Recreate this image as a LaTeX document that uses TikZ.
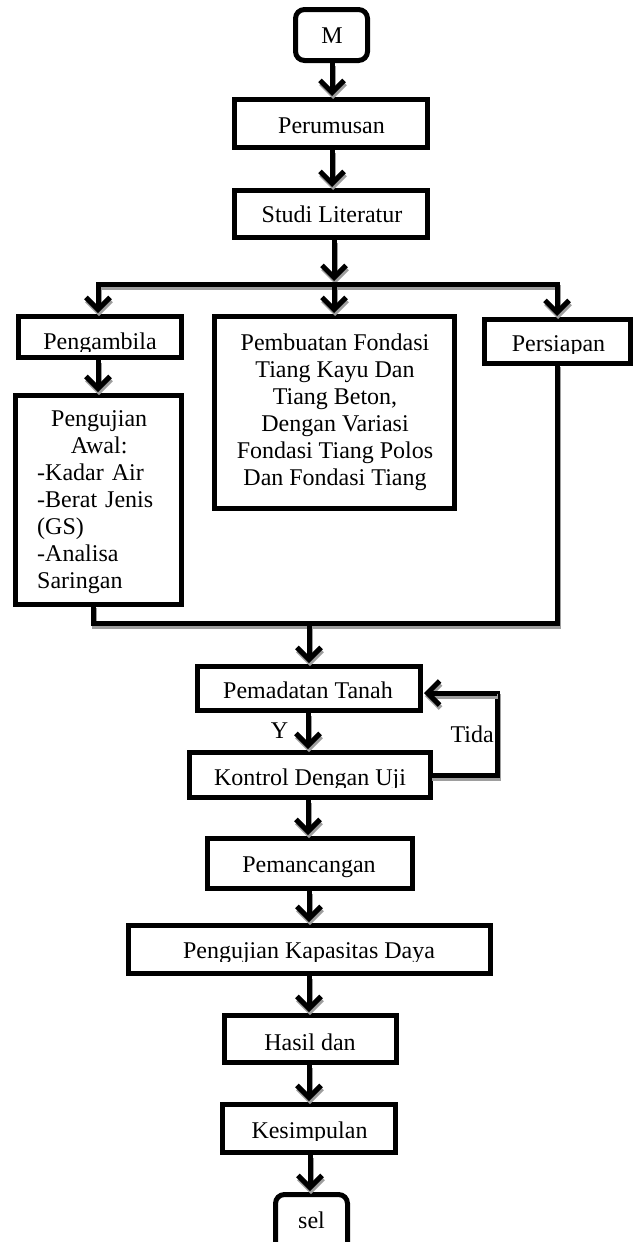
\documentclass[tikz,border=0pt]{standalone}
\usepackage{fontspec}
\setmainfont{Liberation Serif}
\usetikzlibrary{arrows.meta}
\newcommand\shconn[2]{%
  \draw[#1, draw=black!38, transform canvas={shift={(1pt,-3pt)}}] #2;
  \draw[#1] #2;}
\begin{document}
\begin{tikzpicture}[x=1pt,y=-1pt,
  box/.style={draw=black, line width=5pt, fill=white, inner sep=0pt, rectangle},
  rbox/.style={box, rounded corners=9pt},
  txt/.style={inner sep=0pt, anchor=base, font=\fontsize{24}{27}\selectfont},
  con/.style={line width=5pt, line cap=rect},
  arr/.style={line width=5pt, -{Straight Barb[length=12pt,width=24pt]}, shorten >=1pt}]
\clip (0,0) rectangle (638,1242);
% boxes
\node[rbox, minimum width=72pt, minimum height=51pt] (m) at (331.5,35) {};
\node[box, minimum width=193pt, minimum height=48pt] (perum) at (331,123.5) {};
\node[box, minimum width=193pt, minimum height=47pt] (studi) at (331,214) {};
\node[box, minimum width=163pt, minimum height=41pt] (ambil) at (100,337) {};
\node[box, minimum width=240pt, minimum height=192pt] (buat) at (334.5,412.5) {};
\node[box, minimum width=146pt, minimum height=44pt] (siap) at (557.5,341.5) {};
\node[box, minimum width=166pt, minimum height=209pt] (uji) at (98.5,500) {};
\node[box, minimum width=223pt, minimum height=44pt] (padat) at (309,688.5) {};
\node[box, minimum width=241pt, minimum height=45pt] (kontrol) at (310,775) {};
\node[box, minimum width=205pt, minimum height=50pt] (pancang) at (310,863.5) {};
\node[box, minimum width=362pt, minimum height=48pt] (kapasitas) at (309.5,949.5) {};
\node[box, minimum width=172pt, minimum height=47pt] (hasil) at (310.5,1039) {};
\node[box, minimum width=173pt, minimum height=48pt] (simpul) at (309,1128.5) {};
\node[rbox, minimum width=72pt, minimum height=58pt] (sel) at (311.5,1223.5) {};
% texts
\node[txt] (tm) at (332,43) {M};
\node[txt] (tperum) at (331.5,133) {Perumusan};
\node[txt] (tstudi) at (332,222) {Studi Literatur};
\begin{scope}
\clip (18.5,316.5) rectangle (181.5,351.5);
\node[txt] (tambil) at (100,349) {Pengambila};
\end{scope}
\node[txt, align=center] (tbuat) at (335,485) {Pembuatan Fondasi\\Tiang Kayu Dan\\Tiang Beton,\\Dengan Variasi\\Fondasi Tiang Polos\\Dan Fondasi Tiang};
\begin{scope}
\clip (484.5,319.5) rectangle (630.5,353);
\node[txt] (tsiap) at (558.5,351) {Persiapan};
\end{scope}
\node[txt, anchor=base west, text width=124pt] (tuji) at (37,426) {\centering Pengujian\\Awal:\par\raggedright -Kadar Air\\-Berat Jenis\\(GS)\\-Analisa\\Saringan};
\node[txt] (tpadat) at (308,698) {Pemadatan Tanah};
\begin{scope}
\clip (189.5,752.5) rectangle (430.5,787.5);
\node[txt] (tkontrol) at (310,785) {Kontrol Dengan Uji};
\end{scope}
\node[txt] (tpancang) at (309,872) {Pemancangan};
\begin{scope}
\clip (128.5,925.5) rectangle (490.5,961);
\node[txt] (tkapasitas) at (309,958) {Pengujian Kapasitas Daya};
\end{scope}
\node[txt] (thasil) at (310,1050) {Hasil dan};
\begin{scope}
\clip (222.5,1104.5) rectangle (395.5,1140.5);
\node[txt] (tsimpul) at (309.5,1138) {Kesimpulan};
\end{scope}
\node[txt] (tsel) at (311.5,1228) {sel};
\node[txt] (ly) at (279.5,738) {Y};
\node[txt, anchor=base east] (ltida) at (494,742) {Tida};
% coordinates
\coordinate (bl) at (98,284);
\coordinate (bm) at (334,284);
\coordinate (br) at (557,284);
\coordinate (ml) at (93,623);
\coordinate (mm) at (309,623);
\coordinate (mr) at (557,623);
\coordinate (lb) at (497,775);
\coordinate (lt) at (497,693);
% connectors
\shconn{arr}{(m.south -| 332,0) -- (332,97)}
\shconn{arr}{(perum.south -| 332,0) -- (332,188)}
\shconn{arr}{(studi.south -| bm) -- (334,282)}
\shconn{con}{(bl) -- (br)}
\shconn{arr}{(bl) -- (bl |- ambil.north)}
\shconn{arr}{(bm) -- (bm |- buat.north)}
\shconn{arr}{(br) -- (br |- siap.north)}
\shconn{arr}{(ambil.south -| bl) -- (bl |- uji.north)}
\shconn{con}{(uji.south -| ml) -- (ml) -- (mr) -- (siap.south -| mr)}
\shconn{arr}{(mm) -- (mm |- padat.north)}
\shconn{arr}{(padat.south -| 308,0) -- (308,750)}
\shconn{con}{(kontrol.east) -- (lb) -- (lt)}
\shconn{arr}{(lt) -- (lt -| padat.east)}
\shconn{arr}{(kontrol.south -| 308,0) -- (308,836)}
\shconn{arr}{(pancang.south -| 309,0) -- (309,923)}
\shconn{arr}{(kapasitas.south -| 309,0) -- (309,1013)}
\shconn{arr}{(hasil.south -| 309,0) -- (309,1102)}
\shconn{arr}{(simpul.south -| 310,0) -- (310,1192)}
\end{tikzpicture}
\end{document}
